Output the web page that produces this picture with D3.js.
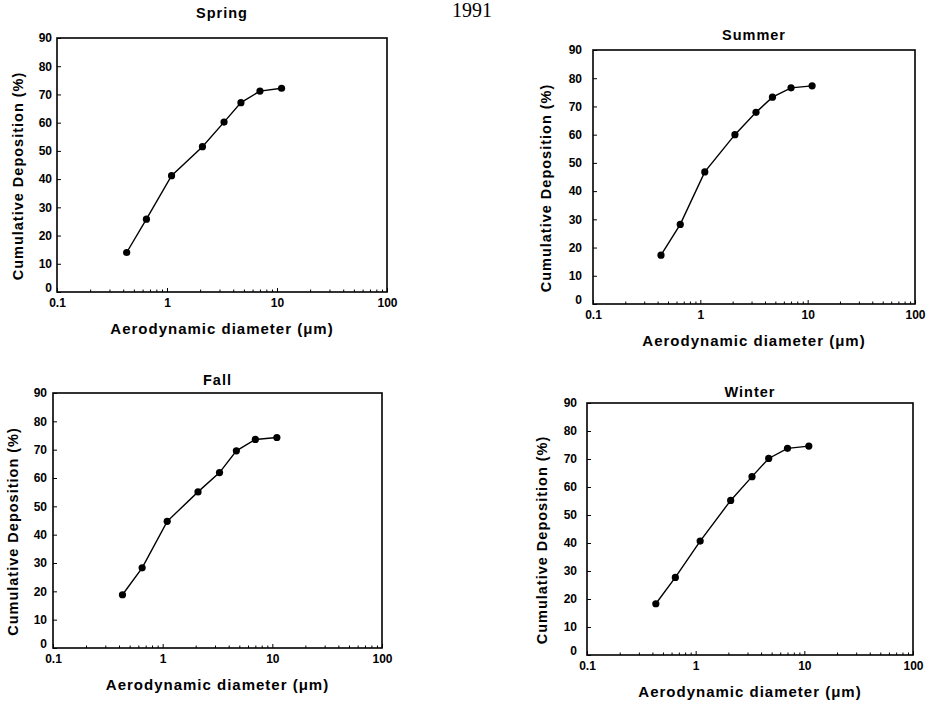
<!DOCTYPE html>
<html lang="en">
<head>
<meta charset="utf-8">
<title>Cumulative Deposition by Season, 1991</title>
<script src="https://cdn.jsdelivr.net/npm/d3@7/dist/d3.min.js"></script>
<style>
  body { margin: 0; background: #fff; }
  text { font-family: "Liberation Sans", Arial, Helvetica, sans-serif; fill: #000; }
</style>
</head>
<body>
<svg width="932" height="706"></svg>
<script>
// stage cut points of the impactor (um)
var diameters = [0.43, 0.65, 1.1, 2.1, 3.3, 4.7, 7.0, 11];

// cumulative deposition (%)
var spring = [14, 25.8, 41.2, 51.5, 60.2, 67.1, 71.2, 72.2];
var summer = [17.3, 28.2, 46.8, 60, 67.9, 73.3, 76.6, 77.3];
var fall   = [18.8, 28.3, 44.7, 55.1, 61.9, 69.6, 73.6, 74.3];
var winter = [18.3, 27.7, 40.7, 55.2, 63.7, 70.2, 73.8, 74.6];

var xMajor = [0.1, 1, 10, 100];
var yTicks = [0, 10, 20, 30, 40, 50, 60, 70, 80, 90];

var svg = d3.select("svg");

svg.append("text")
    .attr("x", 472)
    .attr("y", 17)
    .attr("text-anchor", "middle")
    .style("font-family", "'Liberation Serif', 'DejaVu Serif', serif")
    .style("font-size", "20px")
    .text("1991");

// panel boxes (left, right, top, bottom) plus label offsets
var panels = [
    {title: "Spring", values: spring, l: 57,  r: 387, t: 38,  b: 292, gap: 5,  yt: 39, tt: 20},
    {title: "Summer", values: summer, l: 593, r: 915, t: 50,  b: 304, gap: 11, yt: 47, tt: 10},
    {title: "Fall",   values: fall,   l: 53,  r: 382, t: 393, b: 648, gap: 6,  yt: 40, tt: 8},
    {title: "Winter", values: winter, l: 587, r: 913, t: 403, b: 655, gap: 10, yt: 45, tt: 6}
];

// minor ticks for the log axis
var xMinor = [];
[0.1, 1, 10].forEach(function(d) {
    for (var k = 2; k <= 9; k++) xMinor.push(d * k);
});

var tickFont = function(sel) {
    sel.style("font-size", "12px")
        .style("font-weight", "bold")
        .style("font-family", "'Liberation Sans', Arial, sans-serif");
};

panels.forEach(function(p) {
    var w = p.r - p.l, h = p.b - p.t;
    var x = d3.scaleLog().domain([0.1, 100]).range([0, w]);
    var y = d3.scaleLinear().domain([0, 90]).range([h, 0]);

    var g = svg.append("g").attr("transform", "translate(" + p.l + "," + p.t + ")");

    // minor ticks first
    g.append("g")
        .attr("transform", "translate(0," + h + ")")
        .call(d3.axisBottom(x).tickValues(xMinor).tickSize(-2.5).tickFormat(""))
        .call(function(a) { a.select(".domain").remove(); })
        .selectAll("line").attr("stroke-width", 1);

    var xa = g.append("g")
        .attr("transform", "translate(0," + h + ")")
        .call(d3.axisBottom(x).tickValues(xMajor).tickSize(-4).tickPadding(6)
            .tickFormat(function(d) { return d < 1 ? "0.1" : d3.format("d")(d); }));
    xa.select(".domain").remove();
    xa.selectAll("text").call(tickFont);

    var ya = g.append("g")
        .call(d3.axisLeft(y).tickValues(yTicks).tickSize(-4).tickPadding(p.gap));
    ya.select(".domain").remove();
    ya.selectAll("text").call(tickFont);
    // the zero label sits a little above the corner, as in the original
    ya.selectAll("text").filter(function(d) { return d === 0; })
        .attr("dy", "-0.05em");

    g.append("rect")
        .attr("width", w)
        .attr("height", h)
        .attr("fill", "none")
        .attr("stroke", "#000")
        .attr("stroke-width", 1.6);

    var pts = diameters.map(function(d, i) { return [d, p.values[i]]; });

    g.append("path")
        .datum(pts)
        .attr("fill", "none")
        .attr("stroke", "#000")
        .attr("stroke-width", 1.4)
        .attr("d", d3.line()
            .x(function(d) { return x(d[0]); })
            .y(function(d) { return y(d[1]); }));

    g.selectAll(".dot")
        .data(pts)
        .enter().append("circle")
        .attr("class", "dot")
        .attr("cx", function(d) { return x(d[0]); })
        .attr("cy", function(d) { return y(d[1]); })
        .attr("r", 3.6)
        .attr("fill", "#000");

    g.append("text")
        .attr("x", w / 2)
        .attr("y", -p.tt)
        .attr("text-anchor", "middle")
        .style("font-size", "14.5px")
        .style("font-weight", "bold")
        .style("letter-spacing", "1px")
        .text(p.title);

    g.append("text")
        .attr("x", w / 2)
        .attr("y", h + 42)
        .attr("text-anchor", "middle")
        .style("font-size", "15px")
        .style("font-weight", "bold")
        .style("letter-spacing", "1px")
        .text("Aerodynamic diameter (\u03bcm)");

    g.append("text")
        .attr("transform", "translate(" + (-p.yt + 5) + "," + (h / 2 + 11) + ") rotate(-90)")
        .attr("text-anchor", "middle")
        .style("font-size", "14.5px")
        .style("font-weight", "bold")
        .style("letter-spacing", "1px")
        .text("Cumulative Deposition (%)");
});
</script>
</body>
</html>
